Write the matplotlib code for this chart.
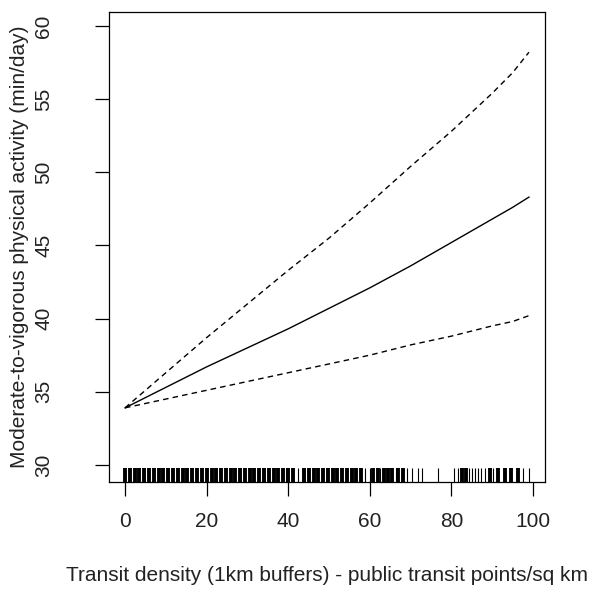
"""
GAM smooth: MVPA vs transit density, with CI bands and rug
"""

import numpy as np
from matplotlib import pyplot as plt

# curve values
density = [0, 10, 20, 30, 40, 50, 60, 70, 80, 90, 95, 99]
fit = [33.9, 35.3, 36.7, 38.0, 39.3, 40.7, 42.1, 43.6, 45.2, 46.8, 47.6, 48.3]
upper = [33.9, 36.3, 38.7, 41.0, 43.3, 45.5, 47.9, 50.4, 52.8, 55.4, 56.8, 58.2]
lower = [33.9, 34.5, 35.1, 35.7, 36.3, 36.9, 37.5, 38.2, 38.8, 39.5, 39.8, 40.2]

# rug: wide blocks in the dense part, thin lines elsewhere
rug_dense = [0, 1.2, 2.4, 3.5, 4.7, 5.9, 7.1, 8.2, 9.4, 10.6, 11.8, 12.9, 14.1,
             15.3, 16.5, 17.6, 18.8, 20.0, 21.2, 22.3, 23.5, 24.7, 25.9, 27.0,
             28.2, 29.4, 30.6, 31.7, 32.9, 34.1, 35.3, 36.4, 37.6, 38.8, 40.0,
             41.2, 43.8, 45.0, 46.2, 47.3, 48.5, 49.7, 50.9, 52.0, 53.2, 54.4,
             55.6, 56.7, 57.9, 60.8, 61.9, 63.5, 64.4, 65.5, 67.0, 68.2,
             82.6, 83.6, 89.4, 91.4, 93.2, 94.7, 96.3]
rug_thin = [39.5, 42.4, 58.8, 60.0, 62.6, 66.3, 69.2, 70.3, 71.9, 72.8, 76.8,
            80.7, 81.5, 84.2, 85.0, 85.7, 86.5, 87.3, 88.3, 90.2, 97.6, 98.9]

xticks = [0, 20, 40, 60, 80, 100]
yticks = [30, 35, 40, 45, 50, 55, 60]

plt.rcParams['font.family'] = ['Liberation Sans', 'DejaVu Sans']

fig = plt.figure(figsize=(6.05, 5.92), dpi=100)
ax = fig.add_axes([0.180, 0.186, 0.721, 0.794])

ax.plot(density, fit, color='black', lw=1.0)
ax.plot(density, upper, color='black', lw=1.0, dashes=(4, 3))
ax.plot(density, lower, color='black', lw=1.0, dashes=(4, 3))

# rug along the bottom (3% of axes height)
trans = ax.get_xaxis_transform()
ax.vlines(rug_dense, 0, 0.03, transform=trans, color='black', lw=2.8)
ax.vlines(rug_thin, 0, 0.03, transform=trans, color='black', lw=0.8)

ax.set_xlim(-3.96, 102.96)
ax.set_ylim(28.84, 60.96)
ax.set_xticks(xticks)
ax.set_yticks(yticks)
ax.set_yticklabels([str(v) for v in yticks], rotation=90, va='center')

for s in ax.spines.values():
    s.set_linewidth(0.9)
ax.tick_params(direction='out', length=10, width=0.9, labelsize=15, colors='black',
               labelcolor='#222222')
ax.tick_params(axis='x', pad=12)
ax.tick_params(axis='y', pad=30)

ax.set_xlabel('Transit density (1km buffers) - public transit points/sq km',
              fontsize=15, color='#222222', labelpad=25)
ax.set_ylabel('Moderate-to-vigorous physical activity (min/day)',
              fontsize=15, color='#222222', labelpad=4)

plt.savefig('out.png', dpi=100)
